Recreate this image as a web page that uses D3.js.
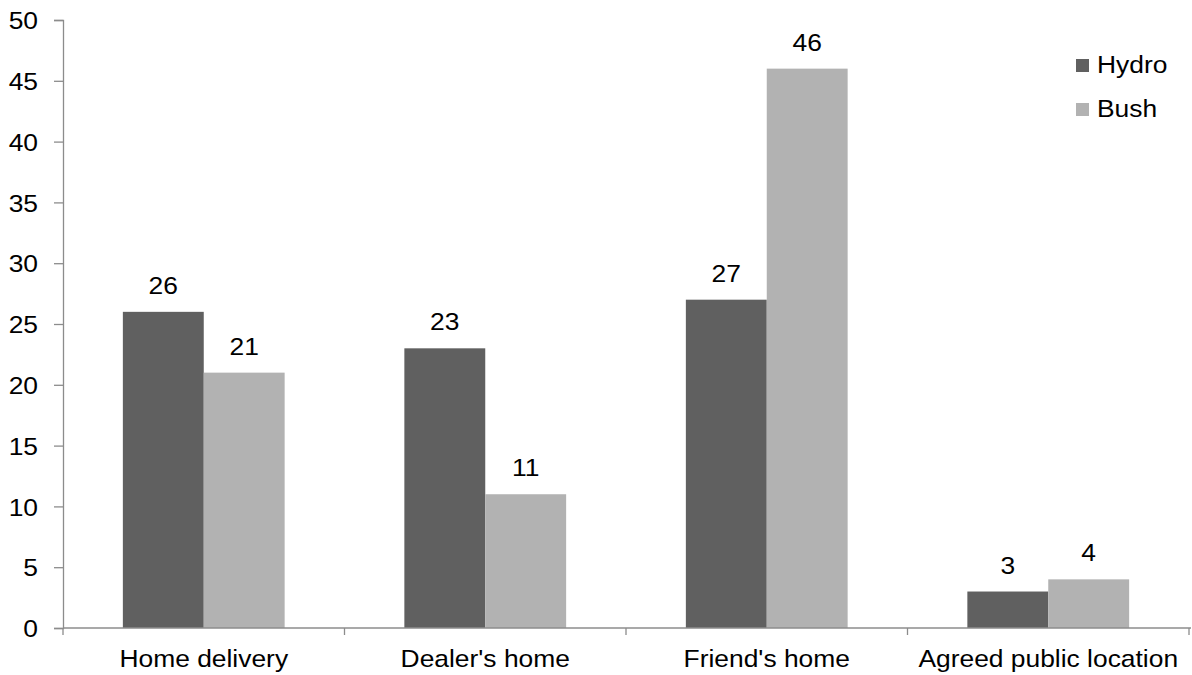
<!DOCTYPE html>
<html><head><meta charset="utf-8">
<script src="https://cdn.jsdelivr.net/npm/d3@7"></script>
<style>body{margin:0;background:#fff}svg{display:block}text{font-family:"Liberation Sans",Arial,sans-serif;fill:#000}</style>
</head><body><svg id="c" width="1192" height="675"></svg>
<script>
const categories = ["Home delivery", "Dealer's home", "Friend's home", "Agreed public location"];
const seriesNames = ["Hydro", "Bush"];
const hydro = [26, 23, 27, 3];
const bush = [21, 11, 46, 4];
const yTicks = [0, 5, 10, 15, 20, 25, 30, 35, 40, 45, 50];
const colors = ["#606060", "#b2b2b2"];

const FS = 24, SX = 1.1;
const svg = d3.select("#c");
const m = {l: 63, r: 1189, t: 20, b: 628};
const x = d3.scaleBand().domain(categories).range([m.l, m.r]).paddingInner(0).paddingOuter(0);
const x1 = d3.scaleBand().domain(seriesNames).range([0, x.bandwidth()]).paddingInner(0).paddingOuter(0.74);
const y = d3.scaleLinear().domain([0, 50]).range([m.b, m.t]);
const axisColor = "#8c8c8c";

function label(parent, tx, ty, txt, anchor) {
  return parent.append("text")
    .attr("transform", `translate(${tx},${ty}) scale(${SX},1)`)
    .attr("text-anchor", anchor || "middle")
    .attr("font-size", FS)
    .text(txt);
}

// y axis
const ya = svg.append("g").attr("transform", `translate(${m.l},0)`)
  .call(d3.axisLeft(y).tickValues(yTicks).tickSize(9).tickPadding(16));
ya.select(".domain").attr("stroke", axisColor).attr("stroke-width", 1.3);
ya.selectAll(".tick line").attr("stroke", axisColor).attr("stroke-width", 1.3);
ya.selectAll(".tick text")
  .attr("font-size", FS).attr("font-family", "Liberation Sans, Arial").attr("fill", "#000")
  .attr("x", -25 / SX).attr("dy", "0.36em").attr("transform", `scale(${SX},1)`);

// bars
const data = categories.map((c, i) => ({c, vals: [hydro[i], bush[i]]}));
const g = svg.append("g");
data.forEach(d => {
  d.vals.forEach((v, j) => {
    const bx = x(d.c) + x1(seriesNames[j]);
    g.append("rect").attr("x", bx).attr("y", y(v)).attr("width", x1.bandwidth()).attr("height", y(0) - y(v)).attr("fill", colors[j]);
    label(g, bx + x1.bandwidth() / 2, y(v) - 18, v);
  });
});

// x axis
const xa = svg.append("g").attr("transform", `translate(0,${m.b})`);
xa.append("line").attr("x1", m.l).attr("x2", m.r + 2).attr("stroke", axisColor).attr("stroke-width", 1.3);
const bounds = [...categories.map(c => x(c)), x(categories[categories.length - 1]) + x.bandwidth()];
bounds.forEach(b => xa.append("line").attr("x1", b).attr("x2", b).attr("y1", 0).attr("y2", 7).attr("stroke", axisColor).attr("stroke-width", 1.3));
categories.forEach(c => label(xa, x(c) + x.bandwidth() / 2, 39, c));

// legend
const lg = svg.append("g");
seriesNames.forEach((s, i) => {
  const ly = 59 + i * 44;
  lg.append("rect").attr("x", 1076).attr("y", ly).attr("width", 13).attr("height", 13).attr("fill", colors[i]);
  label(lg, 1097, ly + 14, s, "start");
});
</script></body></html>
